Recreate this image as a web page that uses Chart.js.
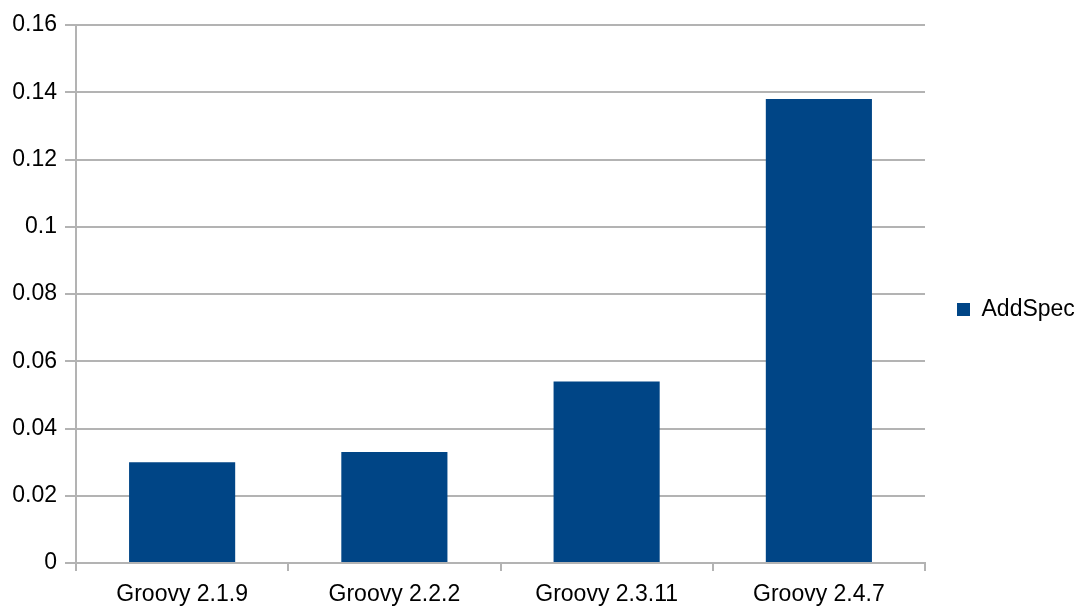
<!DOCTYPE html>
<html>
<head>
<meta charset="utf-8">
<script src="https://cdn.jsdelivr.net/npm/chart.js@4/dist/chart.umd.min.js"></script>
<style>
html,body{margin:0;padding:0;background:#fff;}
#wrap{width:1077px;height:608px;position:relative;}
</style>
</head>
<body>
<div id="wrap"><canvas id="c" width="1077" height="608"></canvas></div>
<script>
const categories = ["Groovy 2.1.9", "Groovy 2.2.2", "Groovy 2.3.11", "Groovy 2.4.7"];
const addSpec = [0.030, 0.033, 0.054, 0.138];
const seriesName = "AddSpec";
const yTicks = [0, 0.02, 0.04, 0.06, 0.08, 0.1, 0.12, 0.14, 0.16];

const FONT = "'Liberation Sans', Arial, sans-serif";
const GRID = "#b3b3b3";

new Chart(document.getElementById('c'), {
  type: 'bar',
  data: {
    labels: categories,
    datasets: [{
      label: seriesName,
      data: addSpec,
      backgroundColor: '#004586',
      borderWidth: 0,
      barPercentage: 0.5,
      categoryPercentage: 1.0
    }]
  },
  options: {
    responsive: false,
    animation: false,
    devicePixelRatio: 1,
    layout: { padding: { left: 0, right: 0, top: 11, bottom: 0 } },
    plugins: {
      legend: {
        position: 'right',
        maxWidth: 152,
        labels: {
          boxWidth: 13, boxHeight: 13, padding: 32,
          color: '#000',
          font: { family: FONT, size: 23 }
        }
      },
      tooltip: { enabled: false }
    },
    scales: {
      x: {
        afterFit: (s) => { s.height = 45; },
        grid: { display: true, drawOnChartArea: false, drawTicks: true, tickLength: 8, color: GRID, lineWidth: 2 },
        border: { color: GRID, width: 2 },
        ticks: { color: '#000', font: { family: FONT, size: 23, lineHeight: 0.9 }, padding: 13, maxRotation: 0 }
      },
      y: {
        min: 0, max: 0.16,
        afterFit: (s) => { s.width = 76; s.paddingTop = 25; },
        afterBuildTicks: (axis) => { axis.ticks = yTicks.map(v => ({ value: v })); },
        grid: { color: GRID, lineWidth: 2, tickLength: 11 },
        border: { color: GRID, width: 2 },
        ticks: {
          color: '#000', font: { family: FONT, size: 23 }, padding: 8,
          callback: (v) => String(Math.round(v * 100) / 100)
        }
      }
    }
  }
});
</script>
</body>
</html>
